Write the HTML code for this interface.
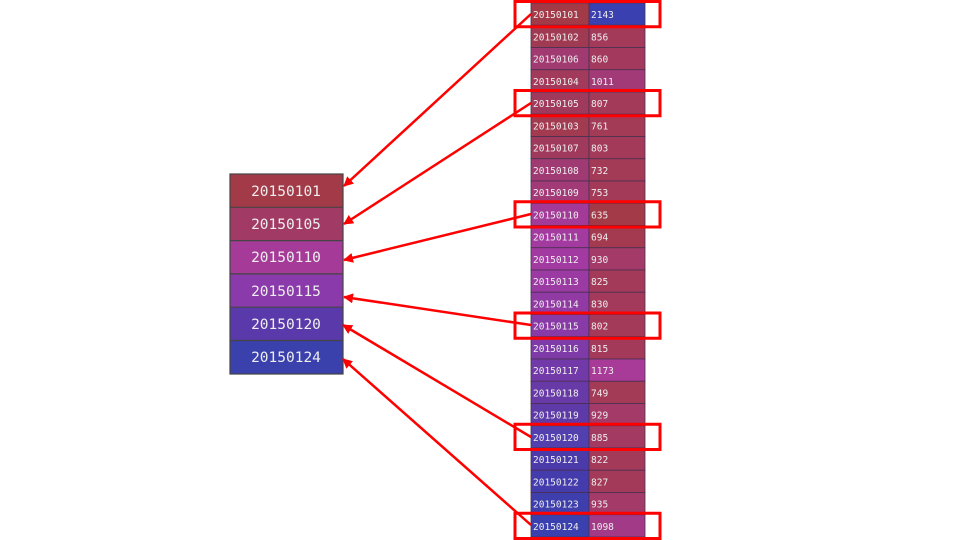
<!DOCTYPE html>
<html><head><meta charset="utf-8"><style>
html,body{margin:0;padding:0;background:#fff;width:960px;height:540px;overflow:hidden}
svg text{font-family:"DejaVu Sans Mono","Liberation Mono",monospace}
</style></head><body>
<svg width="960" height="540" viewBox="0 0 960 540" xmlns="http://www.w3.org/2000/svg">
<defs>
<marker id="ah" markerWidth="10" markerHeight="10" refX="9" refY="5" orient="auto" markerUnits="userSpaceOnUse">
<path d="M0,0 L10,5 L0,10 z" fill="#f00"/></marker>
</defs>
<g id="left" font-size="14.5" fill="#eee" text-anchor="middle">
<rect x="230" y="174" width="113" height="33.3" fill="#a33a48"/>
<rect x="230" y="207.3" width="113" height="33.3" fill="#a23a66"/>
<rect x="230" y="240.6" width="113" height="33.3" fill="#a63a98"/>
<rect x="230" y="273.9" width="113" height="33.3" fill="#8a3aaa"/>
<rect x="230" y="307.2" width="113" height="33.3" fill="#5a3aaa"/>
<rect x="230" y="340.5" width="113" height="33.5" fill="#3a40ac"/>
<g stroke="#444" stroke-width="1.2" fill="none">
<rect x="230" y="174" width="113" height="200"/>
<line x1="230" y1="207.3" x2="343" y2="207.3"/><line x1="230" y1="240.6" x2="343" y2="240.6"/>
<line x1="230" y1="273.9" x2="343" y2="273.9"/><line x1="230" y1="307.2" x2="343" y2="307.2"/>
<line x1="230" y1="340.5" x2="343" y2="340.5"/></g>
<text x="286" y="196">20150101</text><text x="286" y="229">20150105</text>
<text x="286" y="262">20150110</text><text x="286" y="296">20150115</text>
<text x="286" y="329">20150120</text><text x="286" y="362">20150124</text>
</g>
<g id="table" font-size="9.5" fill="#eee"></g>
<g id="boxes" fill="none" stroke="#f00" stroke-width="3"></g>
<g stroke="#f00" stroke-width="2.5" marker-end="url(#ah)">
<line x1="531" y1="14" x2="344" y2="186"/>
<line x1="531" y1="103" x2="344" y2="224"/>
<line x1="531" y1="214" x2="344" y2="260"/>
<line x1="531" y1="325" x2="344" y2="297"/>
<line x1="531" y1="437" x2="343" y2="325"/>
<line x1="531" y1="525" x2="343" y2="359"/>
</g>
</svg>
<script>
var rows=[["20150101","#a33a48","2143","#3a40b0"],["20150102","#a03a52","856","#a33a5a"],["20150106","#a03a70","860","#a33a5e"],["20150104","#a23a5c","1011","#a33a78"],["20150105","#a03a5c","807","#a33a5a"],["20150103","#a23a50","761","#a33a56"],["20150107","#a03a5c","803","#a33a5a"],["20150108","#a03a72","732","#a33a56"],["20150109","#a23a78","753","#a33a58"],["20150110","#a43a98","635","#a33a48"],["20150111","#a33aa0","694","#a33a50"],["20150112","#a23aa2","930","#a33a68"],["20150113","#9a3aa2","825","#a33a5a"],["20150114","#923aa4","830","#a33a5c"],["20150115","#883aa6","802","#a33a5a"],["20150116","#7e3aa6","815","#a33a5a"],["20150117","#723aa8","1173","#a83a98"],["20150118","#683aa8","749","#a33a56"],["20150119","#5e3aa8","929","#a33a68"],["20150120","#5240ae","885","#a33a62"],["20150121","#4a3aaa","822","#a33a5a"],["20150122","#443cac","827","#a33a5a"],["20150123","#3e3eac","935","#a33a68"],["20150124","#3a40ae","1098","#a33a88"]];
var ns="http://www.w3.org/2000/svg",t=document.getElementById("table"),b=document.getElementById("boxes");
function el(p,n,a,tx){var e=document.createElementNS(ns,n);for(var k in a)e.setAttribute(k,a[k]);if(tx)e.textContent=tx;p.appendChild(e);return e;}
var y0=3,h=22.25;
rows.forEach(function(r,i){var y=y0+i*h;
el(t,"rect",{x:531,y:y,width:58,height:h,fill:r[1],stroke:"#4a3050","stroke-width":0.8});
el(t,"rect",{x:589,y:y,width:56,height:h,fill:r[3],stroke:"#4a3050","stroke-width":0.8});
el(t,"text",{x:533,y:y+15},r[0]);el(t,"text",{x:591,y:y+15},r[2]);});
[0,4,9,14,19,23].forEach(function(i){var y=y0+i*h;el(b,"rect",{x:515,y:y-1.5,width:145,height:h+3});});
</script>
</body></html>
